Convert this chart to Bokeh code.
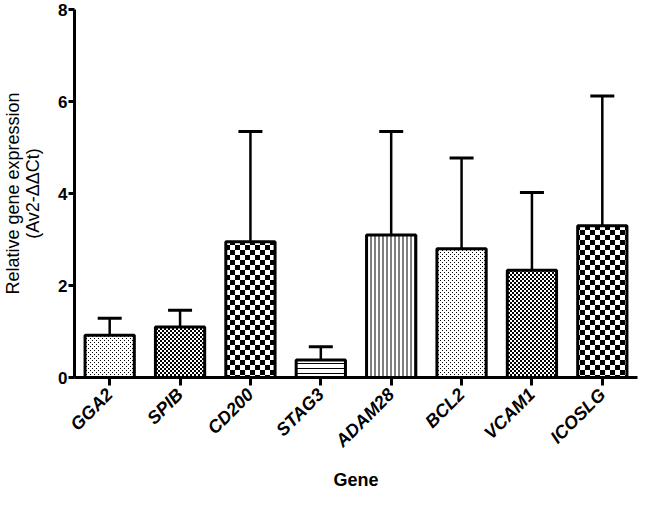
import math
from bokeh.plotting import figure
from bokeh.models import ColumnDataSource, Whisker, TeeHead, CanvasTexture, FixedTicker, Range1d
from bokeh.embed import file_html
from bokeh.resources import INLINE

genes = ["GGA2", "SPIB", "CD200", "STAG3", "ADAM28", "BCL2", "VCAM1", "ICOSLG"]
means = [0.92, 1.10, 2.95, 0.38, 3.10, 2.80, 2.33, 3.30]
errors = [0.37, 0.36, 2.40, 0.29, 2.25, 1.97, 1.69, 2.82]
y_ticks = [0, 2, 4, 6, 8]

# fill style of each bar
patterns = ["stipple", "fine_check", "check", "horizontal_line", "vertical_line", "stipple", "fine_check", "check"]
pattern_scales = [4, 4, 10, 5, 4, 4, 4, 10]

stipple_tex = CanvasTexture(code="""
const c = ctx.canvas; c.width = 4; c.height = 4;
ctx.fillStyle = '#ffffff'; ctx.fillRect(0, 0, 4, 4);
ctx.fillStyle = '#000000';
ctx.fillRect(0, 0, 1, 1); ctx.fillRect(2, 2, 1, 1);
""")
fine_check_tex = CanvasTexture(code="""
const c = ctx.canvas; c.width = 4; c.height = 4;
ctx.fillStyle = '#ffffff'; ctx.fillRect(0, 0, 4, 4);
ctx.fillStyle = '#000000';
ctx.fillRect(0, 0, 2, 2); ctx.fillRect(2, 2, 2, 2);
""")
check_tex = CanvasTexture(code="""
const c = ctx.canvas; c.width = 10; c.height = 10;
ctx.fillStyle = '#ffffff'; ctx.fillRect(0, 0, 10, 10);
ctx.fillStyle = '#000000';
ctx.fillRect(0, 0, 5, 5); ctx.fillRect(5, 5, 5, 5);
""")

src = ColumnDataSource(dict(
    gene=genes, mean=means,
    upper=[m + e for m, e in zip(means, errors)],
    pat=patterns, pscale=pattern_scales,
))

p = figure(x_range=genes, y_range=Range1d(0, 8), width=640, height=492,
           output_backend="svg", toolbar_location=None,
           min_border_left=66, min_border_right=3, min_border_top=9, min_border_bottom=111)
p.x_range.range_padding = 0
p.outline_line_color = None
p.grid.visible = False
p.background_fill_color = "white"

p.add_layout(Whisker(base="gene", lower="mean", upper="upper", source=src,
                     dimension="height", line_width=2.5, line_color="black",
                     upper_head=TeeHead(size=24, line_width=3, line_color="black"),
                     lower_head=None))

p.vbar(x="gene", top="mean", bottom=0, width=0.70, source=src,
       fill_color="white", line_color="black", line_width=3,
       hatch_pattern="pat", hatch_scale="pscale", hatch_color="black", hatch_weight=1,
       hatch_extra={"stipple": stipple_tex, "fine_check": fine_check_tex, "check": check_tex})

font = "Liberation Sans"
p.yaxis.ticker = FixedTicker(ticks=y_ticks)
p.yaxis.minor_tick_line_color = None
p.yaxis.axis_label = "Relative gene expression\n(Av2-\u0394\u0394Ct)"
p.yaxis.axis_label_text_font = font
p.yaxis.axis_label_text_font_style = "normal"
p.yaxis.axis_label_text_font_size = "18px"
p.yaxis.axis_label_text_line_height = 1.0
p.yaxis.axis_label_standoff = 12
p.yaxis.major_label_text_font = font
p.yaxis.major_label_text_font_style = "bold"
p.yaxis.major_label_text_font_size = "17px"
p.yaxis.major_label_standoff = 1
p.yaxis.major_tick_out = 6

p.xaxis.axis_label = "Gene"
p.xaxis.axis_label_text_font = font
p.xaxis.axis_label_text_font_style = "bold"
p.xaxis.axis_label_text_font_size = "18px"
p.xaxis.axis_label_standoff = 9
p.xaxis.major_label_orientation = math.pi / 4
p.xaxis.major_label_text_font = font
p.xaxis.major_label_text_font_style = "bold italic"
p.xaxis.major_label_text_font_size = "18px"
p.xaxis.major_label_standoff = 6
p.xaxis.major_tick_out = 8

for ax in (p.xaxis, p.yaxis):
    ax.axis_line_width = 3
    ax.axis_line_color = "black"
    ax.major_tick_line_width = 3
    ax.major_tick_line_color = "black"
    ax.major_tick_in = 0
    ax.major_label_text_color = "black"
    ax.axis_label_text_color = "black"

open("out.html", "w").write(file_html(p, INLINE))
